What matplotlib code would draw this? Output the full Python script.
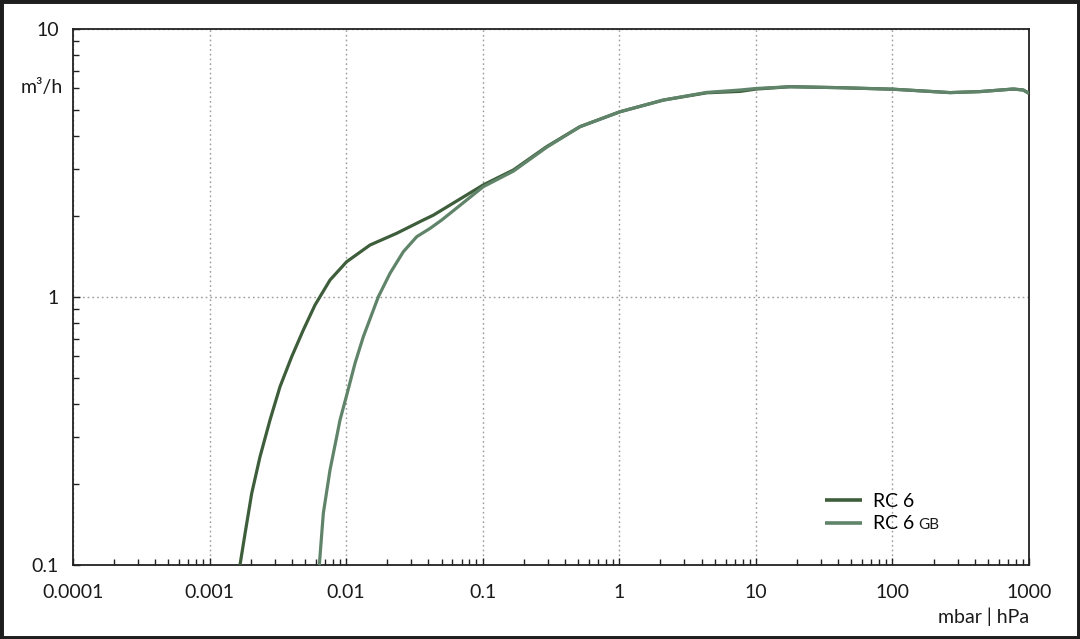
import matplotlib
matplotlib.use("Agg")
import matplotlib.pyplot as plt
from matplotlib.patches import Rectangle
from matplotlib.ticker import LogLocator, FixedLocator, NullFormatter

# ---- data ----
rc6_x = [0.00167, 0.00182, 0.002035, 0.002341, 0.00277, 0.003279, 0.003994,
         0.004857, 0.005916, 0.006436, 0.007618, 0.01009, 0.01496, 0.02346,
         0.03673, 0.0435, 0.101, 0.168, 0.294, 0.515, 1.01, 2.10, 4.37, 7.65,
         10.1, 17.8, 41.3, 101.6, 264, 437, 768, 909, 1000]
rc6_y = [0.1, 0.1313, 0.1851, 0.2536, 0.3475, 0.4627, 0.5988,
         0.7531, 0.9335, 1.0025, 1.157, 1.354, 1.563, 1.729,
         1.938, 2.02, 2.62, 2.98, 3.64, 4.32, 4.91, 5.43, 5.78, 5.85,
         5.97, 6.09, 6.04, 5.96, 5.79, 5.84, 5.97, 5.92, 5.75]

rc6gb_x = [0.006362, 0.006806, 0.007618, 0.008529, 0.009017, 0.01009, 0.01161,
           0.01336, 0.01722, 0.02096, 0.02624, 0.03289, 0.04115, 0.05012, 0.101,
           0.168, 0.294, 0.515, 1.01, 2.10, 4.37, 7.65, 10.1, 17.8, 41.3, 101.6,
           264, 437, 768, 909, 1000]
rc6gb_y = [0.1, 0.1559, 0.2262, 0.3011, 0.3475, 0.43, 0.5655,
           0.711, 1.0025, 1.226, 1.476, 1.679, 1.803, 1.938, 2.58,
           2.95, 3.62, 4.32, 4.91, 5.43, 5.80, 5.92, 6.00, 6.09, 6.04, 5.96,
           5.79, 5.84, 5.97, 5.92, 5.75]

x_ticks = [0.0001, 0.001, 0.01, 0.1, 1, 10, 100, 1000]
x_tick_labels = ["0.0001", "0.001", "0.01", "0.1", "1", "10", "100", "1000"]
y_ticks = [0.1, 1, 10]
y_tick_labels = ["0.1", "1", "10"]

series_labels = ["RC 6", "RC 6"]
series_suffix = "GB"
dark = "#3e5e3b"
light = "#60846a"
txt = "#1a1a1a"
FS = 14

plt.rcParams['font.family'] = ['Lato', 'DejaVu Sans']

fig = plt.figure(figsize=(10.8, 6.39), dpi=100)
ax = fig.add_axes([73/1080, 1-565/639, (1029-73)/1080, (565-29)/639])

ax.plot(rc6_x, rc6_y, color=dark, lw=2.3, label=series_labels[0], zorder=3,
        solid_joinstyle='round', solid_capstyle='butt')
ax.plot(rc6gb_x, rc6gb_y, color=light, lw=2.3, label=series_labels[1], zorder=4,
        solid_joinstyle='round', solid_capstyle='butt')

ax.set_xscale('log')
ax.set_yscale('log')
ax.set_xlim(0.0001, 1000)
ax.set_ylim(0.1, 10)

ax.xaxis.set_major_locator(FixedLocator(x_ticks))
ax.set_xticklabels(x_tick_labels)
ax.yaxis.set_major_locator(FixedLocator(y_ticks))
ax.set_yticklabels(y_tick_labels)
ax.xaxis.set_minor_locator(LogLocator(base=10, subs=range(2, 10), numticks=20))
ax.yaxis.set_minor_locator(LogLocator(base=10, subs=range(2, 10), numticks=20))
ax.xaxis.set_minor_formatter(NullFormatter())
ax.yaxis.set_minor_formatter(NullFormatter())

ax.tick_params(which='both', direction='in', top=False, right=False,
               colors='#222222', labelcolor=txt, labelsize=FS)
ax.tick_params(which='major', length=5, width=1)
ax.tick_params(which='minor', length=4, width=1)
ax.tick_params(axis='x', which='major', pad=14)
ax.tick_params(axis='y', which='major', pad=10)

ax.grid(True, which='major', linestyle=(0, (1.2, 2.2)), color='#9a9a9a', lw=1)
for s in ax.spines.values():
    s.set_color('#222222')
    s.set_linewidth(1.3)

ax.text(-0.0105, 1.0 - (87-29)/(565-29), "m³/h", transform=ax.transAxes,
        ha='right', va='center', fontsize=FS, color=txt)
ax.text(1.0, -(617-565)/536, "mbar | hPa", transform=ax.transAxes,
        ha='right', va='center', fontsize=FS, color=txt)

leg = ax.legend(loc='center left', bbox_to_anchor=((825-73)/956, (565-512.5)/536),
                frameon=False, fontsize=FS, handlelength=1.9, handletextpad=0.55,
                labelspacing=0.3, borderpad=0, borderaxespad=0)
for line in leg.get_lines():
    line.set_linewidth(2.6)

fig.canvas.draw()
t2 = leg.get_texts()[1]
bb = t2.get_window_extent(renderer=fig.canvas.get_renderer())
inv = fig.transFigure.inverted()
x0, y0 = inv.transform((bb.x1 + 4, bb.y0 + 3.5))
fig.text(x0, y0, series_suffix, fontsize=11, ha='left', va='baseline', color=txt)

fig.add_artist(Rectangle((0, 0), 1, 1, transform=fig.transFigure, fill=False,
                         edgecolor='#1e1e1e', lw=5, zorder=10))

fig.savefig("out.png", dpi=100)
